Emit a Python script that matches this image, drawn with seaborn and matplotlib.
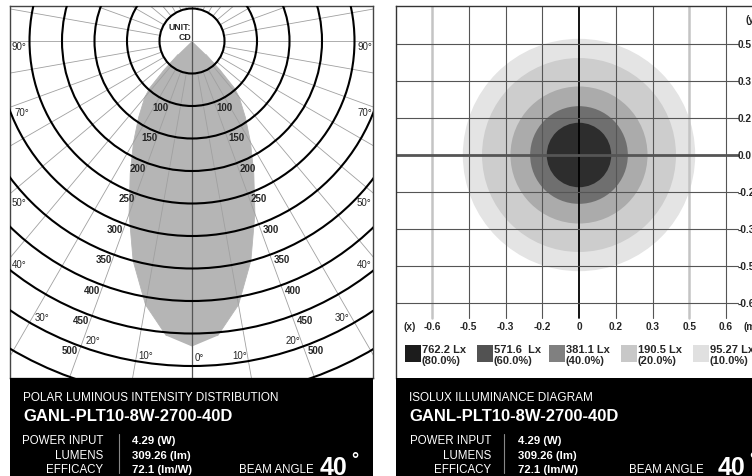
"""Polar intensity + isolux diagram for a downlight spec sheet."""

import matplotlib

matplotlib.use("Agg")
import matplotlib.pyplot as plt
import matplotlib.transforms as mtransforms
import numpy as np
import seaborn as sns
from matplotlib.patches import Circle, Ellipse, Rectangle

# ---- polar luminous intensity (half curve, mirrored) ----
beam_angles = [0, 5, 10, 15, 20, 25, 30, 35, 40, 42, 44, 46, 48]
intensity_cd = [470, 455, 412, 350, 283, 225, 180, 143, 113, 97, 62, 30, 0]
ring_values = [50, 100, 150, 200, 250, 300, 350, 400, 450, 500, 550]
ring_labels = [100, 150, 200, 250, 300, 350, 400, 450, 500]
spoke_step = 10
angle_labels = ["90", "70", "50", "40", "30", "20", "10", "0"]

# ---- isolux ----
lux_values = ["762.2 Lx", "571.6  Lx", "381.1 Lx", "190.5 Lx", "95.27 Lx"]
lux_percent = ["(80.0%)", "(60.0%)", "(40.0%)", "(20.0%)", "(10.0%)"]
lux_radius = [0.136, 0.206, 0.289, 0.409, 0.490]
grid_step = 0.155
x_tick_labels = ["-0.6", "-0.5", "-0.3", "-0.2", "0", "0.2", "0.3", "0.5", "0.6"]
y_tick_labels = ["0.5", "0.3", "0.2", "0.0", "-0.2", "-0.3", "-0.5", "-0.6"]

# ---- spec block ----
model_name = "GANL-PLT10-8W-2700-40D"
spec_names = ["POWER INPUT", "LUMENS", "EFFICACY"]
spec_values = ["4.29 (W)", "309.26 (lm)", "72.1 (lm/W)"]
beam_angle = "40"

sns.set_theme(style="white")
plt.rcParams["font.family"] = ["Liberation Sans", "DejaVu Sans"]

W, H = 752, 477
fig = plt.figure(figsize=(W / 100, H / 100), dpi=100)


def px_axes(x0, y0, x1, y1, **kw):
    return fig.add_axes([x0 / W, 1 - y1 / H, (x1 - x0) / W, (y1 - y0) / H], **kw)


# overlay in pixel coordinates for the text blocks
ov = px_axes(0, 0, W, H, zorder=10)
ov.set_xlim(0, W)
ov.set_ylim(H, 0)
ov.axis("off")
ov.patch.set_alpha(0)

# ================= left: polar diagram =================
CX, CY, S = 192, 42, 0.65
ax = px_axes(10, 7, 373, 379)
ax.set_xlim((10 - CX) / S, (373 - CX) / S)
ax.set_ylim((CY - 379) / S, (CY - 7) / S)
ax.set_xticks([])
ax.set_yticks([])

th = np.radians(beam_angles)
cd = np.array(intensity_cd, dtype=float)
hx, hy = cd * np.sin(th), -cd * np.cos(th)
xs = np.concatenate([-hx[::-1], hx[1:]])
ys = np.concatenate([hy[::-1], hy[1:]])
ax.fill(xs, ys, color="#b5b5b5", lw=0, zorder=1)
sns.lineplot(x=xs, y=ys, sort=False, color="#b5b5b5", lw=0.6, ax=ax, zorder=1)

far = 1500
for a in range(0, 360, spoke_step):
    t = np.radians(a)
    r0 = 0 if a % 90 == 0 else ring_values[0]
    col, lw = ("#555555", 0.9) if a % 180 == 0 else ("#a0a0a0", 0.6)
    ax.plot([r0 * np.sin(t), far * np.sin(t)], [-r0 * np.cos(t), -far * np.cos(t)],
            color=col, lw=lw, zorder=2)

for r in ring_values:
    ax.add_patch(Circle((0, 0), r, fill=False, ec="black", lw=1.5, zorder=3))

lab_t = np.radians(20.5)
for r in ring_labels:
    x, y = r * np.sin(lab_t), -r * np.cos(lab_t)
    ax.text(-x - 1, y, str(r), ha="right", va="top", fontsize=7, fontweight="bold", zorder=4)
    ax.text(x + 3, y, str(r), ha="left", va="top", fontsize=7, fontweight="bold", zorder=4)

ax.text(-1, 18, "UNIT:", ha="right", va="baseline", fontsize=6.3, fontweight="bold", zorder=4)
ax.text(-1, 3, "CD", ha="right", va="baseline", fontsize=6.3, fontweight="bold", zorder=4)

for sp in ax.spines.values():
    sp.set_color("#444444")
    sp.set_linewidth(1.0)

# angle labels (pixel positions, left side then mirrored)
left_pos = [(12, 47), (14, 112), (12, 203), (12, 265), (35, 318), (86, 341), (138, 356), (195, 358)]
right_pos = [(357, 47), (357, 112), (357, 203), (357, 265), (335, 318), (286, 341), (232, 356)]
for lab, (x, y) in zip(angle_labels, left_pos):
    ov.text(x, y + 3.5, lab + "°", ha="left", va="baseline", fontsize=7)
for lab, (x, y) in zip(angle_labels, right_pos):
    ov.text(x, y + 3.5, lab + "°", ha="left", va="baseline", fontsize=7)

# ================= right: isolux diagram =================
RX, RY = 579, 156
XS, YS = 36.75 / grid_step, 37.1 / grid_step
ax2 = px_axes(396, 7, 820, 379)
ax2.set_xlim((396 - RX) / XS, (820 - RX) / XS)
ax2.set_ylim((RY - 379) / YS, (RY - 7) / YS)
ax2.set_xticks([])
ax2.set_yticks([])

circle_colors = ["#2d2d2d", "#6f6f6f", "#ababab", "#cdcdcd", "#e4e4e4"]
swatch_colors = ["#1c1c1c", "#525252", "#808080", "#c8c8c8", "#e0e0e0"]
for r, c in zip(lux_radius[::-1], circle_colors[::-1]):
    ax2.add_patch(Ellipse((0, 0), 2 * r, 2 * r * XS / YS, color=c, lw=0, zorder=1))

y_top = (RY - 7) / YS
y_tick_end = (RY - 319) / YS
x_left = (396 - RX) / XS
x_tick_end = (738 - RX) / XS
kx = range(-4, 5)
ky = range(-4, 4)
for k in kx:
    if k == 0:
        col, lw = "black", 1.3
    elif k in (-4, 3):
        col, lw = "#c4c4c4", 1.8
    else:
        col, lw = "#555555", 0.8
    ax2.plot([k * grid_step] * 2, [y_top, y_tick_end], color=col, lw=lw, zorder=2)
for k in ky:
    lw = 2.0 if k == 0 else 0.8
    ax2.plot([x_left, x_tick_end], [k * grid_step] * 2, color="#555555", lw=lw, zorder=2)

for name, sp in ax2.spines.items():
    sp.set_visible(name in ("left", "top"))
    sp.set_color("#333333")
    sp.set_linewidth(1.0)

bx = mtransforms.blended_transform_factory(ax2.transData, ov.transData)
by = mtransforms.blended_transform_factory(ov.transData, ax2.transData)
for k, lab in zip(kx, x_tick_labels):
    ov.text(k * grid_step, 330, lab, transform=bx, ha="center", va="baseline",
            fontsize=7.3, fontweight="bold")
ov.text(403, 330, "(x)", ha="left", va="baseline", fontsize=7.3, fontweight="bold")
ov.text(743, 330, "(m)", ha="left", va="baseline", fontsize=7.3, fontweight="bold")
ov.text(745, 23, "(y)", ha="left", va="baseline", fontsize=7.3, fontweight="bold")
for k, lab in zip(range(3, -5, -1), y_tick_labels):
    ov.text(738, k * grid_step, lab, transform=by, ha="left", va="center",
            fontsize=7.3, fontweight="bold")

# legend swatches
for i, (v, p, c) in enumerate(zip(lux_values, lux_percent, swatch_colors)):
    x0 = 405 + 72 * i
    ov.add_patch(Rectangle((x0, 346), 16, 17, color=c, lw=0))
    ov.text(x0 + 17, 353, v, ha="left", va="baseline", fontsize=8, fontweight="bold")
    ov.text(x0 + 17, 364, p, ha="left", va="baseline", fontsize=8, fontweight="bold")

# ================= black info blocks =================
panels = [
    dict(x0=10, x1=373, title="POLAR LUMINOUS INTENSITY DISTRIBUTION",
         names_r=103, sep=119, vals=132, beam=239, deg=320),
    dict(x0=396, x1=760, title="ISOLUX ILLUMINANCE DIAGRAM",
         names_r=491, sep=504, vals=518, beam=629, deg=718),
]
baselines = [444.5, 459.5, 473]
for p in panels:
    ov.add_patch(Rectangle((p["x0"], 379), p["x1"] - p["x0"], 100, color="black", lw=0))
    ov.text(p["x0"] + 13, 401.5, p["title"], color="white", fontsize=8.5, va="baseline")
    ov.text(p["x0"] + 13, 421, model_name, color="white", fontsize=12,
            fontweight="bold", va="baseline")
    for n, v, b in zip(spec_names, spec_values, baselines):
        ov.text(p["names_r"], b, n, color="white", fontsize=8.3, ha="right", va="baseline")
        ov.text(p["vals"], b, v, color="white", fontsize=8.2, fontweight="bold", va="baseline")
    ov.plot([p["sep"]] * 2, [435, 474], color="#888888", lw=0.8)
    ov.text(p["beam"], 473, "BEAM ANGLE", color="white", fontsize=8.3, va="baseline")
    ov.text(p["deg"], 475, beam_angle, color="white", fontsize=18, fontweight="bold",
            va="baseline")
    ov.text(p["deg"] + 31, 465, "°", color="white", fontsize=13, fontweight="bold",
            va="baseline")

fig.savefig("out.png", dpi=100)
